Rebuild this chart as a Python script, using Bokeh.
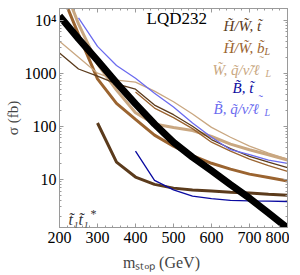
import math
from bokeh.plotting import figure
from bokeh.models import (Range1d, LogAxis, LinearAxis, Label, SingleIntervalTicker,
                          LogTicker, CustomJSTickFormatter)
from bokeh.embed import file_html
from bokeh.resources import INLINE

# ---- data ----
m_stop = [200, 250, 300, 350, 400, 450, 500, 550, 600, 650, 700, 750, 800]

# stop pair production cross-section (fb), thick black
stop_pair = [12000, 4470, 1740, 660, 263, 110, 50, 26, 14.5, 7.9, 4.4, 2.3, 1.2]

# H/W, stop : thick (from 300) and thin (from 200)
hw_t_thick = [115, 21, 11, 8.0, 6.8, 6.3, 6.0, 5.7, 5.5, 5.2, 5.0]
hw_t_thin = [2400, 1200, 880, 630, 500, 250, 165, 100, 56, 38, 27, 21, 16.5]

# H/W, sbottom_L : thick (from 200) and thin (from 400)
hw_b_thick = [40000, 5400, 780, 270, 135, 68, 42, 28, 20, 15.5, 12.5, 10.8, 9.3]
hw_b_thin = [440, 220, 145, 90, 50, 34, 24, 18, 14]

# W, q/nu/l_L : thick and thin
w_q_thick = [70000, 8500, 1500, 480, 180, 110, 95, 83, 64, 46, 36, 29, 23]
w_q_thin = [4000, 2000, 1000, 740, 680, 460, 290, 170, 95, 62, 42, 31, 24]

# B, stop (from 400)
b_t = [34, 9.5, 6.3, 4.8, 4.3, 4.0, 3.9, 3.85, 3.8]

# B, q/nu/l_L (from 250)
b_q = [11000, 3200, 1400, 800, 420, 230, 115, 62, 36, 29, 23, 20]

x_ticks_major = 100
y_labels = {10: "10", 100: "100", 1000: "1000", 10000: "10\u2074"}

# ---- styling ----
DARK_BROWN = "#5b3b1c"
MED_BROWN = "#9b6430"
TAN = "#c9a781"
DARK_BLUE = "#0a0aa0"
LIGHT_BLUE = "#6b6bef"
GRAY = "#9a9a9a"
SERIF = "Liberation Serif"

p = figure(x_range=Range1d(200, 800), y_range=Range1d(1.23, 16600),
           y_axis_type="log", frame_width=228, frame_height=219,
           output_backend="svg", toolbar_location=None,
           min_border_left=59, min_border_top=8, min_border_right=2,
           min_border_bottom=40, background_fill_color="white")
p.grid.visible = False
p.outline_line_color = GRAY

def tail(xs, ys):
    return xs[len(xs) - len(ys):]

def draw(ys, color, width):
    p.line(tail(m_stop, ys), ys, line_color=color, line_width=width)

draw(w_q_thick, TAN, 3)
draw(hw_b_thick, MED_BROWN, 3)
draw(hw_t_thick, DARK_BROWN, 3)
draw(w_q_thin, TAN, 1.3)
draw(hw_t_thin, DARK_BROWN, 1.3)
draw(hw_b_thin, MED_BROWN, 1.3)
draw(b_q, LIGHT_BLUE, 1.3)
draw(b_t, DARK_BLUE, 1.3)
draw(stop_pair, "black", 7)

# axes
for ax in (p.xaxis[0], p.yaxis[0]):
    ax.axis_line_color = GRAY
    ax.major_tick_line_color = GRAY
    ax.minor_tick_line_color = GRAY
    ax.major_tick_in = 4
    ax.major_tick_out = 0
    ax.minor_tick_in = 2
    ax.minor_tick_out = 0
    ax.major_label_text_font = SERIF
    ax.major_label_text_font_size = "16px"
    ax.major_label_text_color = "black"

p.xaxis.ticker = SingleIntervalTicker(interval=x_ticks_major, num_minor_ticks=5)
p.xaxis.major_label_standoff = 4
p.xaxis.axis_label = "m\u209b\u209c\u2092\u209a (GeV)\u00a0\u00a0\u00a0\u00a0\u00a0\u00a0"
p.xaxis.axis_label_text_font = SERIF
p.xaxis.axis_label_text_font_size = "16px"
p.xaxis.axis_label_text_font_style = "normal"
p.xaxis.axis_label_standoff = 8
p.yaxis.ticker = LogTicker(num_minor_ticks=10)
p.yaxis.major_label_overrides = y_labels
p.yaxis.major_label_standoff = 3
p.yaxis.axis_label = "\u03c3 (fb)"
p.yaxis.axis_label_text_font = SERIF
p.yaxis.axis_label_text_font_size = "15px"
p.yaxis.axis_label_text_font_style = "normal"
p.yaxis.axis_label_standoff = 1

top_ax = LinearAxis(ticker=SingleIntervalTicker(interval=x_ticks_major, num_minor_ticks=5),
                    formatter=CustomJSTickFormatter(code="return ''"))
right_ax = LogAxis(ticker=LogTicker(num_minor_ticks=10),
                   formatter=CustomJSTickFormatter(code="return ''"))
for ax in (top_ax, right_ax):
    ax.axis_line_color = GRAY
    ax.major_tick_line_color = GRAY
    ax.minor_tick_line_color = GRAY
    ax.major_tick_in = 4
    ax.major_tick_out = 0
    ax.minor_tick_in = 2
    ax.minor_tick_out = 0
    ax.major_label_standoff = 0
p.add_layout(top_ax, "above")
p.add_layout(right_ax, "right")

def lab(text, x, y, size="15px", color="black", style="italic", font=SERIF,
        align="left", baseline="middle"):
    p.add_layout(Label(x=x, y=y, x_units="screen", y_units="screen", text=text,
                       text_font=font, text_font_size=size, text_color=color,
                       text_font_style=style, text_align=align, text_baseline=baseline))

# model label
lab("LQD232", 87, 209, size="17px", style="normal")

# legend
lab("H\u0303/W\u0303, t\u0303", 164, 202, color=DARK_BROWN)
lab("H\u0303/W\u0303, b\u0303", 164, 180, color=MED_BROWN)
lab("L", 205, 176, size="10px", color=MED_BROWN)
lab("W\u0303, q\u0303/\u03bd\u0303/\u2113", 153, 158, color=TAN)
lab("\u02dc", 200, 167, size="13px", color=TAN, style="normal")
lab("L", 206, 154, size="10px", color=TAN)
lab("B\u0303, t\u0303", 173, 140, color=DARK_BLUE)
lab("B\u0303, q\u0303/\u03bd\u0303/\u2113", 154, 119, color=LIGHT_BLUE)
lab("\u02dc", 199, 128, size="13px", color=LIGHT_BLUE, style="normal")
lab("L", 205, 115, size="10px", color=LIGHT_BLUE)

# process label
lab("t\u0303\u2081t\u0303\u2081", 9, 8, size="16px", color="#333333")
lab("*", 31, 14, size="12px", color="#333333", style="normal")

open("out.html", "w").write(file_html(p, INLINE))
